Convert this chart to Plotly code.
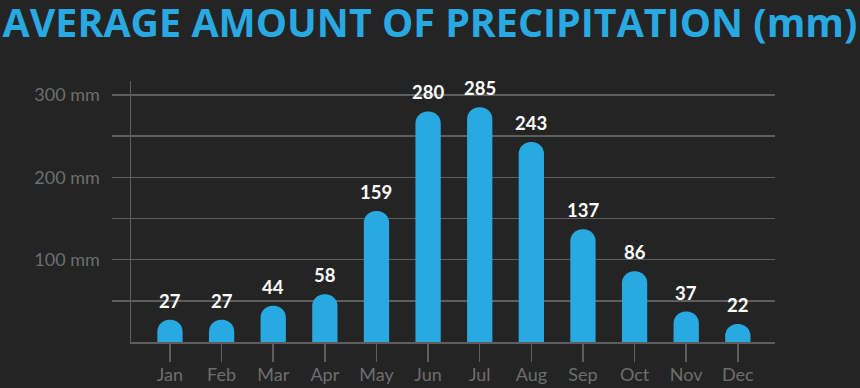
import plotly.graph_objects as go

months = ["Jan", "Feb", "Mar", "Apr", "May", "Jun", "Jul", "Aug", "Sep", "Oct", "Nov", "Dec"]
precip_mm = [27, 27, 44, 58, 159, 280, 285, 243, 137, 86, 37, 22]
ytick_vals = [50, 100, 150, 200, 250, 300]
ytick_text = ["", "100 mm", "", "200 mm", "", "300 mm"]
title_text = "AVERAGE AMOUNT OF PRECIPITATION (mm)"

BG = "#242424"
BLUE = "#29a9e1"
GRID = "#5e5e5e"
TICKTXT = "#6e6e6e"

fig = go.Figure()
fig.add_trace(go.Bar(
    x=list(range(len(months))),
    y=precip_mm,
    width=0.49,
    marker=dict(color=BLUE, line=dict(width=0), cornerradius="50%"),
    hoverinfo="skip",
))

for i, v in enumerate(precip_mm):
    fig.add_annotation(
        x=i, y=v, text=str(v), showarrow=False,
        yanchor="bottom", yshift=6,
        font=dict(family="Lato", size=18.5, color="#ffffff", weight="bold"),
    )

fig.update_layout(
    width=860, height=388,
    paper_bgcolor=BG, plot_bgcolor=BG,
    margin=dict(l=131, r=85, t=81, b=46),
    showlegend=False,
    title=dict(
        text=title_text, x=0.003, xanchor="left", y=0.976, yanchor="top",
        font=dict(family="Open Sans", size=39.4, color=BLUE, weight="bold"),
    ),
    xaxis=dict(
        range=[-0.755, 11.72],
        tickmode="array", tickvals=list(range(len(months))), ticktext=months,
        ticks="outside", ticklen=18, tickwidth=1.5, tickcolor=GRID,
        showline=True, linecolor=GRID, linewidth=1.5,
        showgrid=False, zeroline=False,
        tickfont=dict(family="Lato", size=18, color=TICKTXT),
        ticklabelstandoff=-2,
        automargin=False,
        fixedrange=True,
    ),
    yaxis=dict(
        range=[0, 317],
        tickmode="array", tickvals=ytick_vals, ticktext=ytick_text,
        ticks="outside", ticklen=18, tickwidth=1.5, tickcolor=GRID,
        showline=True, linecolor=GRID, linewidth=1.5,
        showgrid=True, gridcolor=GRID, gridwidth=1.5,
        zeroline=False,
        tickfont=dict(family="Lato", size=18, color=TICKTXT),
        ticklabelstandoff=8,
        automargin=False,
        fixedrange=True,
    ),
)

fig.write_html(
    "out.html",
    config={"displayModeBar": False, "staticPlot": True},
    post_script="document.body.style.margin='0';document.body.style.background='#242424';",
)
